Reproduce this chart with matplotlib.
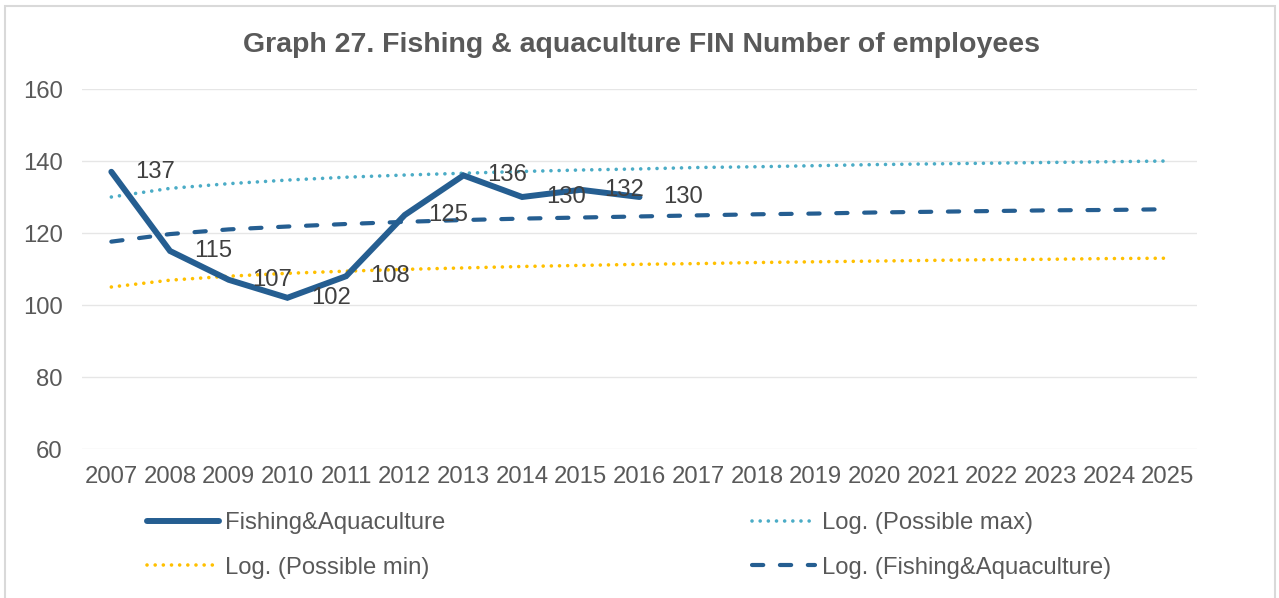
import matplotlib
matplotlib.use("Agg")
import matplotlib.pyplot as plt
from matplotlib.patches import Rectangle

plt.rcParams['font.family'] = ['Liberation Sans', 'DejaVu Sans']

years = [str(y) for y in range(2007, 2026)]
fishing_years = years[:10]
fishing = [137, 115, 107, 102, 108, 125, 136, 130, 132, 130]
log_max = [130.0, 132.4, 133.7, 134.7, 135.5, 136.1, 136.6, 137.1, 137.5, 137.8,
           138.2, 138.4, 138.7, 139.0, 139.2, 139.4, 139.6, 139.8, 140.0]
log_min = [105.0, 106.9, 108.0, 108.8, 109.4, 109.9, 110.3, 110.7, 111.0, 111.3,
           111.5, 111.8, 112.0, 112.2, 112.4, 112.6, 112.7, 112.9, 113.0]
log_fish = [117.6, 119.7, 121.0, 121.8, 122.5, 123.1, 123.6, 124.0, 124.3, 124.6,
            124.9, 125.2, 125.4, 125.7, 125.9, 126.1, 126.3, 126.4, 126.6]
y_ticks = [60, 80, 100, 120, 140, 160]

W, H = 1279, 598
fig = plt.figure(figsize=(W / 100, H / 100), dpi=100)
ax = fig.add_axes([82 / W, (H - 449) / H, (1197 - 82) / W, (449 - 89) / H])

TXT = '#595959'
FS = 17.2
x_all = list(range(len(years)))
x_f = list(range(len(fishing_years)))

ln_max, = ax.plot(x_all, log_max, color='#4BACC6', lw=2.6, linestyle=(0, (0.01, 2.25)),
                  dash_capstyle='round', label='Log. (Possible max)', zorder=2)
ln_min, = ax.plot(x_all, log_min, color='#FFC000', lw=2.6, linestyle=(0, (0.01, 2.25)),
                  dash_capstyle='round', label='Log. (Possible min)', zorder=2)
ln_lf, = ax.plot(x_all, log_fish, color='#255E91', lw=3.0, linestyle=(0, (2.7, 4.0)),
                 dash_capstyle='round', label='Log. (Fishing&Aquaculture)', zorder=3)
ln_f, = ax.plot(x_f, fishing, color='#255E91', lw=4.3, solid_capstyle='round',
                solid_joinstyle='miter', label='Fishing&Aquaculture', zorder=4)

for xi, v in zip(x_f, fishing):
    ax.annotate(str(v), (xi, v), xytext=(17, 0), textcoords='offset points',
                ha='left', va='center', fontsize=FS, color='#404040', zorder=5)

ax.set_xlim(-0.5, len(years) - 0.5)
ax.set_ylim(60, 160)
ax.set_yticks(y_ticks)
ax.set_xticks(x_all)
ax.set_xticklabels(years)
ax.grid(axis='y', color='#E6E6E6', lw=1.0)
ax.set_axisbelow(True)
for s in ax.spines.values():
    s.set_visible(False)
ax.tick_params(axis='both', length=0, labelsize=FS, colors=TXT)
ax.tick_params(axis='x', pad=12)
ax.tick_params(axis='y', pad=14)

fig.text(641.5 / W, 1 - 45 / H, 'Graph 27. Fishing & aquaculture FIN Number of employees',
         ha='center', va='center', fontsize=20.5, fontweight='bold', color=TXT)

leg_kw = dict(frameon=False, fontsize=FS, handletextpad=0.26,
              labelspacing=0.95, borderpad=0, borderaxespad=0, labelcolor=TXT,
              loc='upper left')
leg1 = fig.legend(handles=[ln_f, ln_min], bbox_to_anchor=(147 / W, 1 - 512 / H),
                  handlelength=3.0, **leg_kw)
leg2 = fig.legend(handles=[ln_max, ln_lf], bbox_to_anchor=(752 / W, 1 - 512 / H),
                  handlelength=2.65, **leg_kw)

fig.patches.append(Rectangle((5 / W, -0.05), 1270 / W, 1.05 - 6 / H, transform=fig.transFigure,
                             fill=False, edgecolor='#D9D9D9', lw=1.5))

fig.savefig('out.png', dpi=100, facecolor='white')
